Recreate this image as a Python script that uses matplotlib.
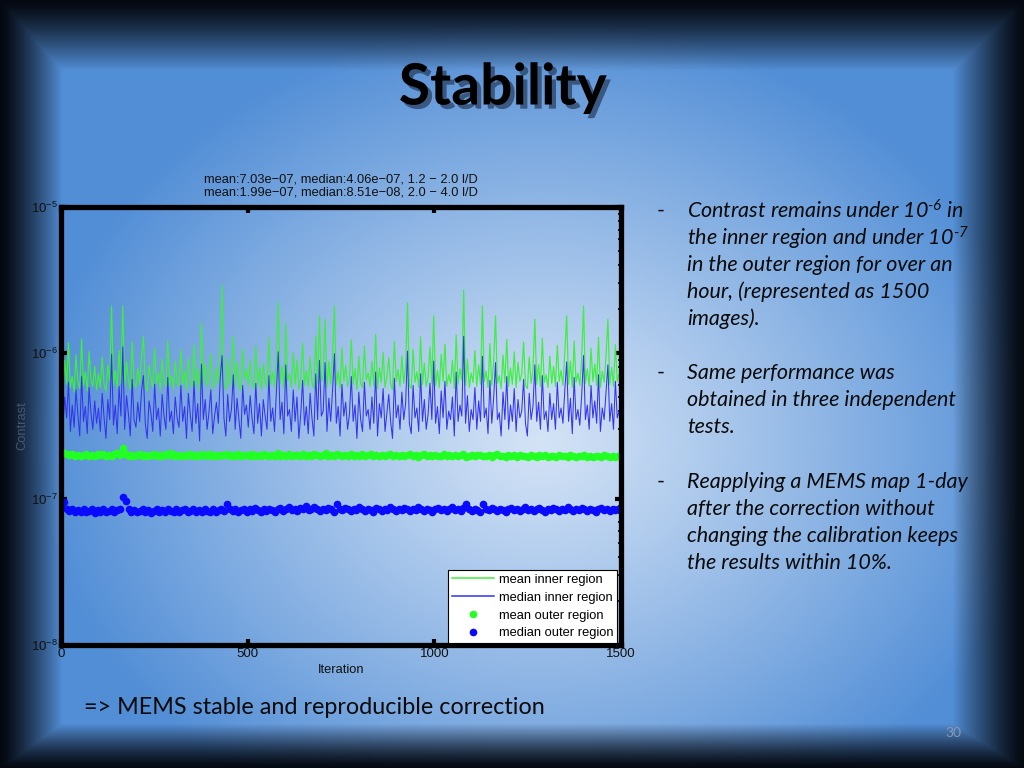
import numpy as np
import matplotlib
matplotlib.use("Agg")
import matplotlib.pyplot as plt
import matplotlib.patheffects as pe
from matplotlib.ticker import LogLocator, NullFormatter

# contrast values, in units of 1e-7
mean_inner = [
    6.4, 5.6, 8.9, 6.1, 11.8, 5.8, 6.9, 5.4, 9.7, 6.3, 5.7, 12.5, 6.0, 7.4, 5.5, 10.2, 6.6, 5.9, 8.1, 5.6,
    7.2, 5.8, 9.4, 6.1, 5.5, 8.3, 6.4, 21, 6.0, 7.6, 5.7, 10.4, 6.2, 21, 5.9, 8.7, 6.5, 5.6, 11.9, 6.3,
    5.8, 7.9, 6.1, 9.6, 13, 6.0, 5.5, 8.2, 6.7, 5.8, 10.8, 6.2, 7.3, 5.6, 9.1, 6.4, 5.9, 12.2, 6.0, 7.0,
    5.7, 8.8, 6.3, 5.9, 10.5, 6.1, 7.5, 5.6, 9.3, 6.5, 5.8, 11.4, 6.0, 7.8, 5.5, 16, 6.2, 8.4, 5.9, 6.8,
    9.9, 5.7, 6.4, 8.0, 6.1, 12.0, 29, 6.3, 5.6, 9.2, 6.0, 7.1, 13, 5.8, 8.6, 6.2, 5.5, 10.7, 6.6, 7.7,
    5.9, 9.0, 6.3, 5.7, 11.1, 6.0, 7.9, 5.6, 8.5, 6.4, 5.8, 12.7, 6.1, 7.4, 5.9, 9.8, 22, 6.2, 8.1, 5.7,
    16, 6.5, 7.2, 5.8, 10.0, 6.1, 8.9, 5.6, 6.7, 11.7, 6.0, 7.6, 5.9, 9.4, 6.3, 5.7, 13.1, 6.2, 18, 6.4,
    7.0, 17, 5.8, 8.7, 6.1, 9.9, 21, 6.0, 7.5, 5.7, 10.9, 6.4, 8.2, 5.9, 6.6, 12.3, 6.1, 7.8, 5.6, 9.5,
    6.2, 5.8, 11.2, 6.5, 7.3, 5.9, 8.8, 6.0, 13.4, 5.7, 7.9, 6.3, 10.1, 5.8, 6.9, 9.3, 6.1, 5.6, 12.0, 6.4,
    7.7, 5.9, 9.6, 6.2, 8.0, 22, 6.0, 5.7, 10.6, 6.3, 7.4, 5.8, 12.9, 6.1, 8.5, 5.9, 6.8, 11.0, 6.2, 18,
    6.0, 7.6, 5.8, 9.8, 6.4, 11.5, 5.9, 7.1, 6.2, 8.9, 5.7, 13.3, 6.1, 7.8, 6.5, 27, 6.0, 9.1, 5.8, 7.3,
    6.3, 10.4, 5.9, 8.3, 6.1, 21, 6.4, 7.5, 5.8, 11.6, 6.0, 8.7, 18, 6.2, 7.0, 5.7, 9.7, 6.3, 12.4, 5.9,
    7.9, 6.1, 10.2, 5.8, 8.6, 6.4, 7.2, 11.9, 6.0, 5.7, 9.4, 6.2, 7.7, 17, 6.1, 8.3, 5.9, 12.6, 6.3, 7.1,
    5.8, 9.5, 6.2, 8.1, 5.9, 11.3, 6.4, 7.6, 6.0, 10.0, 18, 6.1, 8.8, 5.8, 12.1, 6.3, 7.3, 6.0, 9.2, 21,
    6.2, 7.8, 5.9, 10.8, 6.4, 8.4, 6.0, 12.8, 5.8, 7.5, 6.3, 9.6, 17, 6.1, 8.0, 5.9, 11.4, 6.4, 7.2, 6.6,
]
median_inner = [
    4.1, 3.2, 5.0, 3.6, 6.3, 2.9, 4.4, 3.1, 5.6, 3.8, 2.7, 6.9, 3.4, 4.3, 2.8, 5.8, 3.9, 3.0, 4.7, 3.3,
    4.2, 2.9, 5.3, 3.6, 2.6, 4.8, 3.5, 9.8, 3.2, 4.4, 2.8, 5.9, 3.7, 11, 3.0, 5.1, 3.8, 2.7, 6.6, 3.5,
    3.1, 4.6, 3.4, 5.5, 7.0, 3.3, 2.6, 4.7, 3.9, 2.9, 6.1, 3.5, 4.2, 2.7, 5.2, 3.7, 3.0, 6.8, 3.4, 4.0,
    2.8, 5.0, 3.6, 3.1, 6.0, 3.4, 4.3, 2.6, 5.3, 3.8, 2.9, 6.4, 3.3, 4.5, 2.5, 8.4, 3.5, 4.8, 3.0, 3.9,
    5.6, 2.8, 3.7, 4.6, 3.3, 6.7, 9.6, 3.6, 2.7, 5.2, 3.4, 4.1, 7.1, 3.0, 4.9, 3.5, 2.6, 6.0, 3.8, 4.4,
    3.1, 5.1, 3.6, 2.8, 6.2, 3.3, 4.5, 2.7, 4.8, 3.7, 3.0, 7.0, 3.4, 4.2, 2.9, 5.5, 10.2, 3.5, 4.6, 2.8,
    8.3, 3.7, 4.1, 2.9, 5.6, 3.4, 5.0, 2.6, 3.8, 6.5, 3.2, 4.3, 2.8, 5.3, 3.6, 2.7, 7.2, 3.5, 8.9, 3.7,
    4.0, 8.6, 2.9, 4.9, 3.4, 5.6, 9.9, 3.3, 4.3, 2.7, 6.1, 3.7, 4.6, 3.0, 3.8, 6.9, 3.4, 4.4, 2.6, 5.4,
    3.5, 2.9, 6.3, 3.7, 4.1, 3.0, 5.0, 3.3, 7.4, 2.7, 4.5, 3.6, 5.7, 2.9, 3.9, 5.2, 3.4, 2.6, 6.7, 3.6,
    4.4, 3.0, 5.4, 3.5, 4.5, 10.3, 3.3, 2.8, 6.0, 3.6, 4.2, 2.9, 7.2, 3.4, 4.8, 3.0, 3.8, 6.2, 3.5, 8.8,
    3.3, 4.3, 2.8, 5.5, 3.6, 6.4, 3.0, 4.0, 3.5, 5.0, 2.7, 7.4, 3.4, 4.4, 3.7, 13, 3.3, 5.1, 2.9, 4.1,
    3.5, 5.8, 3.0, 4.7, 3.4, 9.5, 3.6, 4.2, 2.8, 6.5, 3.3, 4.9, 8.6, 3.5, 3.9, 2.7, 5.4, 3.5, 6.9, 3.0,
    4.4, 3.4, 5.7, 2.9, 4.8, 3.6, 4.0, 6.6, 3.3, 2.7, 5.3, 3.5, 4.3, 8.3, 3.4, 4.6, 3.0, 7.0, 3.5, 4.0,
    2.9, 5.3, 3.5, 4.5, 3.0, 6.3, 3.6, 4.2, 3.3, 5.6, 8.7, 3.4, 4.9, 2.8, 6.8, 3.5, 4.1, 3.2, 5.1, 9.6,
    3.5, 4.4, 3.0, 6.0, 3.6, 4.7, 3.3, 7.1, 2.9, 4.2, 3.5, 5.4, 8.3, 3.4, 4.5, 3.0, 6.4, 3.6, 4.0, 3.7,
]
mean_outer = [
    2.12, 2.06, 2.02, 1.99, 2.03, 1.98, 2.01, 1.97, 2.00, 2.04, 1.98, 2.01, 1.97, 2.02, 1.99, 2.03, 1.98, 2.00, 1.97, 2.02,
    2.05, 1.99, 2.25, 2.03, 1.98, 2.01, 1.97, 2.00, 2.04, 1.98, 2.01, 1.96, 1.99, 2.03, 1.97, 2.00, 1.98, 2.02, 1.99, 2.05,
    1.97, 2.00, 1.98, 2.01, 1.96, 1.99, 2.03, 1.97, 2.00, 1.98, 2.02, 1.99, 1.96, 2.04, 1.98, 2.00, 1.97, 2.01, 1.99, 2.03,
    1.97, 2.00, 1.98, 2.02, 1.96, 1.99, 2.01, 1.97, 2.04, 1.98, 2.00, 1.96, 2.02, 1.99, 1.97, 2.01, 1.98, 2.05, 1.97, 2.00,
    1.98, 2.02, 1.96, 1.99, 2.01, 1.97, 2.03, 1.98, 2.00, 1.96, 2.02, 1.99, 1.97, 2.01, 2.06, 1.98, 2.00, 1.96, 2.02, 1.99,
    1.97, 2.01, 1.98, 2.03, 1.96, 2.00, 1.98, 2.02, 1.97, 1.99, 2.04, 1.96, 2.00, 1.98, 2.01, 1.97, 1.99, 2.03, 1.96, 2.00,
    1.98, 2.01, 1.96, 1.99, 2.02, 1.97, 2.00, 1.95, 1.99, 2.03, 1.97, 1.99, 1.96, 2.01, 1.98, 1.96, 2.02, 1.97, 1.99, 1.96,
    2.00, 1.97, 1.99, 2.02, 1.95, 1.98, 2.00, 1.96, 1.99, 2.01, 1.96, 1.98, 2.00, 1.95, 1.99, 2.02, 1.96, 1.98, 1.95, 2.00,
    1.97, 1.99, 1.95, 2.01, 1.96, 1.98, 1.94, 2.00, 1.97, 1.95, 1.99, 1.96, 2.01, 1.95, 1.98, 1.96, 1.94, 1.99, 1.96, 1.98,
    1.95, 2.00, 1.96, 1.94, 1.98, 1.96, 1.99, 1.95, 1.97, 1.94, 1.98, 1.96, 1.95, 1.99, 1.96, 1.94, 1.97, 1.95, 1.96, 1.97,
]
median_outer = [
    0.90, 0.95, 0.86, 0.83, 0.85, 0.81, 0.84, 0.82, 0.86, 0.81, 0.83, 0.85, 0.80, 0.84, 0.82, 0.86, 0.81, 0.83, 0.85, 0.82,
    0.84, 0.86, 1.03, 0.97, 0.85, 0.82, 0.84, 0.81, 0.83, 0.86, 0.82, 0.84, 0.80, 0.83, 0.85, 0.82, 0.84, 0.81, 0.86, 0.83,
    0.82, 0.85, 0.81, 0.84, 0.86, 0.82, 0.83, 0.85, 0.81, 0.84, 0.82, 0.86, 0.83, 0.81, 0.85, 0.82, 0.84, 0.86, 0.83, 0.92,
    0.86, 0.83, 0.85, 0.82, 0.84, 0.86, 0.82, 0.85, 0.83, 0.87, 0.84, 0.82, 0.85, 0.83, 0.86, 0.84, 0.82, 0.85, 0.87, 0.83,
    0.85, 0.88, 0.84, 0.86, 0.83, 0.87, 0.85, 0.89, 0.84, 0.86, 0.88, 0.85, 0.83, 0.86, 0.84, 0.87, 0.85, 0.82, 0.93, 0.86,
    0.84, 0.87, 0.85, 0.83, 0.86, 0.84, 0.88, 0.85, 0.83, 0.86, 0.84, 0.82, 0.87, 0.85, 0.83, 0.86, 0.84, 0.88, 0.85, 0.83,
    0.86, 0.84, 0.87, 0.85, 0.83, 0.86, 0.84, 0.88, 0.85, 0.83, 0.86, 0.84, 0.82, 0.85, 0.87, 0.84, 0.86, 0.83, 0.85, 0.88,
    0.84, 0.86, 0.83, 0.87, 0.92, 0.85, 0.83, 0.86, 0.84, 0.82, 0.92, 0.86, 0.84, 0.87, 0.85, 0.83, 0.86, 0.84, 0.82, 0.85,
    0.87, 0.84, 0.86, 0.83, 0.85, 0.88, 0.84, 0.86, 0.83, 0.85, 0.87, 0.84, 0.82, 0.86, 0.84, 0.87, 0.85, 0.83, 0.86, 0.84,
    0.88, 0.85, 0.83, 0.86, 0.84, 0.87, 0.85, 0.83, 0.86, 0.84, 0.82, 0.85, 0.87, 0.84, 0.86, 0.83, 0.85, 0.84, 0.86, 0.85,
]

title_lines = "mean:7.03e\u221207, median:4.06e\u221207, 1.2 \u2212 2.0 l/D\nmean:1.99e\u221207, median:8.51e\u221208, 2.0 \u2212 4.0 l/D"
legend_labels = ["mean inner region", "median inner region", "mean outer region", "median outer region"]

plt.rcParams["mathtext.fontset"] = "custom"
plt.rcParams["mathtext.rm"] = "Lato:italic"
plt.rcParams["mathtext.it"] = "Lato:italic"
plt.rcParams["mathtext.default"] = "regular"

W, H = 1024, 768
fig = plt.figure(figsize=(W / 100, H / 100), dpi=100)

# slide background: light centre, blue body, dark bevelled frame
bg = fig.add_axes([0, 0, 1, 1], zorder=-10)
yy, xx = np.mgrid[0:H, 0:W].astype(float)
r = np.hypot((xx - 540) / 1.2, yy - 440)
s = np.clip(r / 420, 0, 1) ** 1.1
light = np.array([212, 227, 246]) / 255
mid = np.array([82, 142, 214]) / 255
img = light * (1 - s[..., None]) + mid * s[..., None]
t = np.minimum.reduce([xx / 62, (W - xx) / 72, yy / 70, (H - yy) / 45])
f = np.clip(t, 0, 1) ** 1.3
dark = np.array([4, 8, 16]) / 255
img = dark * (1 - f[..., None]) + img * f[..., None]
bg.imshow(img, aspect="auto", extent=[0, 1, 0, 1])
bg.axis("off")

chart_font = "Liberation Sans"
ax = fig.add_axes([61 / W, 1 - 645 / H, 560 / W, 438 / H], facecolor="none")
x_line = np.linspace(0, 1500, len(mean_inner))
x_dot = np.linspace(0, 1500, len(mean_outer))
ax.plot(x_line, np.array(mean_inner) * 1e-7, color="#3cf03c", lw=0.85, label=legend_labels[0])
ax.plot(x_line, np.array(median_inner) * 1e-7, color="#3434ee", lw=0.75, label=legend_labels[1])
ax.plot(x_dot, np.array(mean_outer) * 1e-7, "o", color="#22ff22", ms=5.5, mec="none", label=legend_labels[2])
ax.plot(x_dot, np.array(median_outer) * 1e-7, "o", color="#0a0aff", ms=5.5, mec="none", label=legend_labels[3])

ax.set_yscale("log")
ax.set_ylim(1e-8, 1e-5)
ax.set_xlim(0, 1500)
ax.set_xticks([0, 500, 1000, 1500])
ax.yaxis.set_major_locator(LogLocator(base=10, numticks=10))
ax.yaxis.set_minor_formatter(NullFormatter())
for sp in ax.spines.values():
    sp.set_linewidth(3.8)
ax.tick_params(which="major", direction="in", length=4, width=3, top=True, right=True,
               labelsize=9.5, pad=2, labelcolor="#111111")
ax.tick_params(which="minor", direction="in", length=2, width=1.2, right=True, left=True)
for lab in ax.get_xticklabels() + ax.get_yticklabels():
    lab.set_fontfamily(chart_font)
ax.set_xlabel("Iteration", fontsize=9.3, labelpad=3, color="#111111", family=chart_font)
ax.set_ylabel("Contrast", fontsize=9.3, labelpad=2, color="#4a5670", family=chart_font)
ax.set_title(title_lines, fontsize=9.3, pad=8, linespacing=1.12, color="#111111", family=chart_font)

leg = ax.legend(loc="lower right", bbox_to_anchor=(0.993, 0.004), prop={"family": chart_font, "size": 9.3},
                handlelength=3.3, frameon=True, fancybox=False, borderpad=0.3,
                labelspacing=0.45, handletextpad=0.35, borderaxespad=0)
leg.get_frame().set_edgecolor("black")
leg.get_frame().set_linewidth(0.8)
leg.get_frame().set_alpha(1)
for h in leg.get_lines():
    h.set_linewidth(1.1)

# slide texts
fig.text(503 / W, 1 - 88 / H, "Stability", fontsize=41, fontweight="bold", family="Lato",
         ha="center", va="center", color="black",
         path_effects=[pe.withSimplePatchShadow(offset=(3, -3), shadow_rgbFace="#1a2a44", alpha=0.6)])

bullets = [
    [r"Contrast remains under 10$^{\text{-6}}$ in", r"the inner region and under 10$^{\text{-7}}$",
     "in the outer region for over an", "hour, (represented as 1500", "images)."],
    ["Same performance was", "obtained in three independent", "tests."],
    ["Reapplying a MEMS map 1-day", "after the correction without",
     "changing the calibration keeps", "the results within 10%."],
]
starts = [211, 373, 482]
for y0, lines in zip(starts, bullets):
    fig.text(657 / W, 1 - y0 / H, "-", fontsize=15.5, family="Lato", color="#0a0a0a", va="center")
    for k, ln in enumerate(lines):
        fig.text(687 / W, 1 - (y0 + 27 * k) / H, ln, fontsize=15.5, family="Lato", style="italic",
                 color="#0a0a0a", va="center")

fig.text(84 / W, 1 - 708 / H, "=> MEMS stable and reproducible correction", fontsize=16.8,
         family="Lato", color="#0a0a0a", va="center")
fig.text(953 / W, 1 - 733 / H, "30", fontsize=10, family="Lato", color="#8a9ab0", ha="center", va="center")

fig.savefig("out.png", dpi=100)
